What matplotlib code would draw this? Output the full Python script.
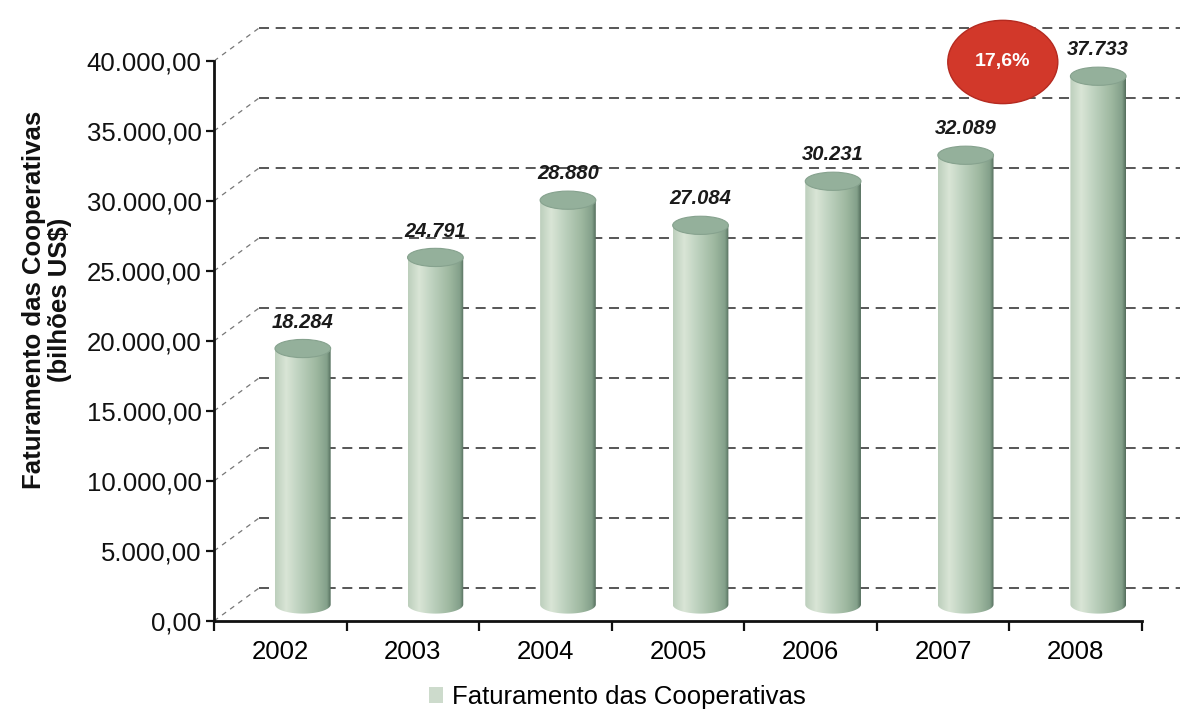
import matplotlib
matplotlib.use('Agg')
import matplotlib.pyplot as plt
import numpy as np
from matplotlib.patches import Ellipse, PathPatch, Patch
from matplotlib.path import Path
from matplotlib.colors import LinearSegmentedColormap

# faturamento anual das cooperativas
anos = ['2002', '2003', '2004', '2005', '2006', '2007', '2008']
faturamento = [18284, 24791, 28880, 27084, 30231, 32089, 37733]
rotulos = ['18.284', '24.791', '28.880', '27.084', '30.231', '32.089', '37.733']
yticks = [0, 5000, 10000, 15000, 20000, 25000, 30000, 35000, 40000]
ytick_labels = ['0,00', '5.000,00', '10.000,00', '15.000,00', '20.000,00',
                '25.000,00', '30.000,00', '35.000,00', '40.000,00']
crescimento = '17,6%'

plt.rcParams['font.family'] = ['Liberation Sans', 'DejaVu Sans']

W, H = 1180, 715
fig = plt.figure(figsize=(W / 100, H / 100), dpi=100)
ax = fig.add_axes([214 / W, 94 / H, 928 / W, 560 / H])

# profundidade da "parede" do fundo (pseudo 3D)
dx = 0.34
dy = 2357
x_fim = 6.785

cinza = '#3a3a3a'
for v in yticks:
    ax.plot([-0.5 + dx, x_fim], [v + dy, v + dy], color=cinza, lw=1.2,
            dashes=(6, 4), clip_on=False, zorder=1)
    ax.plot([-0.5, -0.5 + dx], [v, v + dy], color='#777777', lw=0.9,
            dashes=(4, 4), clip_on=False, zorder=1)

# cilindros
cmap = LinearSegmentedColormap.from_list('cil', [
    (0.0, '#bccfbc'), (0.2, '#d9e5d6'), (0.45, '#bcd0bd'),
    (0.75, '#9db79f'), (0.93, '#83a08a'), (1.0, '#536d5c')])
grad = np.linspace(0, 1, 256).reshape(1, -1)

w = 0.42
eh = 1300
base = dy / 2
for i, v in enumerate(faturamento):
    cx = i + dx / 2
    topo = v + dy / 2
    t = np.linspace(np.pi, 2 * np.pi, 60)
    xs = np.concatenate([[cx - w / 2, cx - w / 2], cx + w / 2 * np.cos(t), [cx + w / 2]])
    ys = np.concatenate([[topo, base], base + eh / 2 * np.sin(t), [topo]])
    corpo = Path(np.column_stack([xs, ys]))
    clip = PathPatch(corpo, facecolor='none', edgecolor='none', transform=ax.transData)
    ax.add_patch(clip)
    im = ax.imshow(grad, cmap=cmap, aspect='auto', zorder=3,
                   extent=[cx - w / 2, cx + w / 2, base - eh / 2, topo])
    im.set_clip_path(clip)
    ax.add_patch(Ellipse((cx, topo), w, eh, facecolor='#94b09b',
                         edgecolor='#86a28e', lw=0.8, zorder=4))
    ax.annotate(rotulos[i], (cx, topo), xytext=(0, 19), textcoords='offset points',
                ha='center', va='center', fontsize=14.5, fontweight='bold',
                style='italic', color='#1a1a1a', zorder=5)

# destaque do crescimento
ax.add_patch(Ellipse((5.45, 39930), 0.83, 5950, facecolor='#d2382a',
                     edgecolor='#b52a20', lw=1, clip_on=False, zorder=6))
ax.text(5.45, 39930, crescimento, ha='center', va='center', color='white',
        fontsize=14, fontweight='bold', zorder=7)

ax.set_xlim(-0.5, 6.5)
ax.set_ylim(0, 40000)

for s in ['top', 'right']:
    ax.spines[s].set_visible(False)
for s in ['left', 'bottom']:
    ax.spines[s].set_linewidth(2)
    ax.spines[s].set_color('#111111')

ax.set_yticks(yticks)
ax.set_yticklabels(ytick_labels, fontsize=18.5)
ax.tick_params(axis='y', direction='out', length=6, width=1.6, pad=3, colors='#111111')

ax.set_xticks(np.arange(-0.5, 7, 1))
ax.set_xticklabels([])
ax.set_xticks(np.arange(7), minor=True)
ax.set_xticklabels(anos, minor=True, fontsize=18.5)
ax.tick_params(axis='x', which='major', direction='out', length=7, width=1.6, colors='#111111')
ax.tick_params(axis='x', which='minor', length=0, pad=14)

fig.text(47 / W, 1 - 300 / H, 'Faturamento das Cooperativas\n(bilhões US$)',
         rotation=90, ha='center', va='center', multialignment='center',
         fontsize=18.5, fontweight='bold', linespacing=1.1, color='#111111')

fig.legend(handles=[Patch(facecolor='#cddbcc', edgecolor='none')],
           labels=['Faturamento das Cooperativas'], loc='center',
           bbox_to_anchor=(617 / W, 1 - 697 / H), frameon=False, fontsize=18.5,
           handlelength=0.55, handleheight=0.55, handletextpad=0.35)

fig.savefig('out.png', dpi=100)
